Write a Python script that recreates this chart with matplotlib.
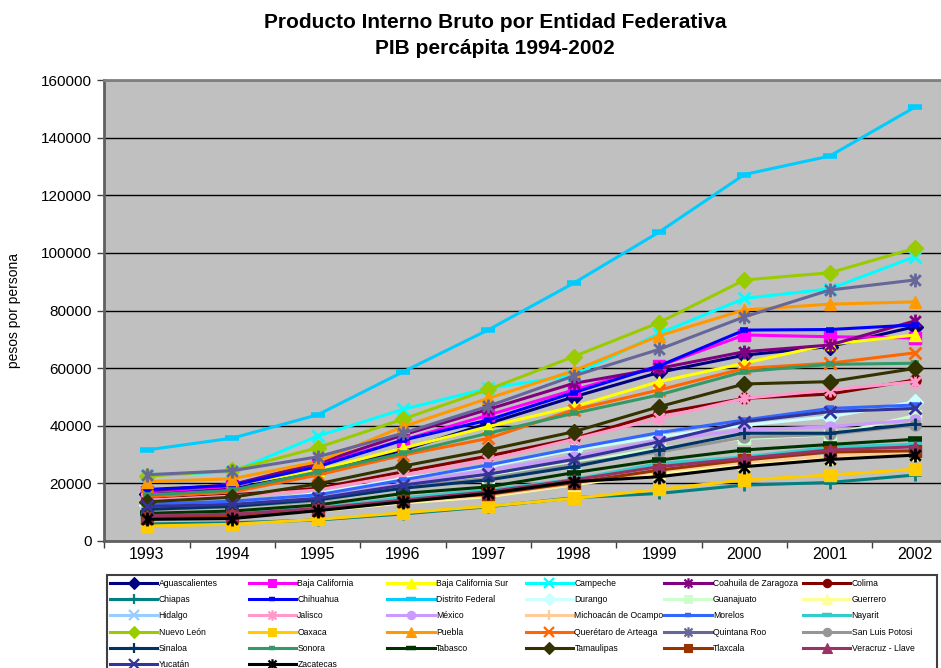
import matplotlib
matplotlib.use("Agg")
import matplotlib.pyplot as plt
from matplotlib.path import Path
from matplotlib.patches import Rectangle
from matplotlib.lines import Line2D

plt.rcParams['font.family'] = ['Liberation Sans', 'DejaVu Sans']

years = ['1993', '1994', '1995', '1996', '1997', '1998', '1999', '2000', '2001', '2002']

estados = ['Aguascalientes', 'Baja California', 'Baja California Sur', 'Campeche',
           'Coahuila de Zaragoza', 'Colima', 'Chiapas', 'Chihuahua', 'Distrito Federal',
           'Durango', 'Guanajuato', 'Guerrero', 'Hidalgo', 'Jalisco', 'México',
           'Michoacán de Ocampo', 'Morelos', 'Nayarit', 'Nuevo León', 'Oaxaca', 'Puebla',
           'Querétaro de Arteaga', 'Quintana Roo', 'San Luis Potosi', 'Sinaloa', 'Sonora',
           'Tabasco', 'Tamaulipas', 'Tlaxcala', 'Veracruz - Llave', 'Yucatán', 'Zacatecas']

# PIB per capita (pesos), one list per state
aguascalientes = [16400, 18000, 24000, 31500, 40800, 50000, 58500, 64500, 67500, 74400]
baja_california = [17000, 19000, 26400, 35000, 43700, 52400, 60750, 71500, 70900, 70500]
baja_california_sur = [17900, 19500, 24600, 32200, 39700, 46600, 55300, 61700, 68300, 71500]
campeche = [22800, 24000, 36400, 45700, 53000, 57500, 72000, 84200, 87500, 98700]
coahuila = [17400, 19600, 27000, 36800, 45700, 54700, 59900, 65700, 68000, 76400]
colima = [14400, 16000, 18300, 24000, 29500, 35600, 44300, 49500, 51000, 55900]
chiapas = [5900, 6300, 7300, 9400, 11900, 15000, 16500, 19400, 20300, 22900]
chihuahua = [17900, 19300, 25800, 35000, 42000, 51500, 60750, 73200, 73400, 75000]
distrito_federal = [31600, 35700, 43800, 58700, 73300, 89500, 107200, 127200, 133600, 150600]
durango = [12500, 13300, 16500, 21700, 25800, 31600, 36200, 40200, 43100, 48300]
guanajuato = [11200, 12200, 14300, 18300, 22300, 27000, 32200, 35600, 36800, 43500]
guerrero = [7800, 8400, 10400, 13200, 15400, 19500, 23500, 26400, 28900, 30300]
hidalgo = [8500, 9200, 11300, 14600, 17300, 21000, 25800, 28400, 30300, 31800]
jalisco = [14200, 15600, 17700, 22900, 28100, 35300, 42600, 49500, 52400, 55300]
mexico = [11800, 12800, 14800, 19900, 24600, 29300, 35000, 38500, 39700, 42000]
michoacan = [7600, 8200, 10700, 13600, 15800, 19800, 24200, 27300, 29600, 30600]
morelos = [12800, 13800, 16000, 21200, 26400, 32200, 37600, 42000, 46000, 47200]
nayarit = [9000, 9700, 11500, 15000, 17700, 21400, 26900, 29200, 32500, 33600]
nuevo_leon = [22500, 24500, 32400, 42300, 52600, 64000, 75800, 90600, 93100, 101600]
oaxaca = [5200, 5800, 7500, 9800, 12100, 14800, 17900, 21200, 22900, 24900]
puebla = [20600, 21600, 27500, 39700, 49500, 59100, 71200, 80200, 82200, 83000]
queretaro = [15500, 17000, 22900, 29800, 35600, 45500, 52400, 59900, 61700, 65300]
quintana_roo = [23000, 24400, 29200, 37400, 46800, 57300, 66500, 77800, 87100, 90600]
san_luis_potosi = [10800, 11900, 13900, 18800, 21800, 26600, 30900, 36000, 37000, 40200]
sinaloa = [11000, 12000, 14300, 18300, 21200, 25800, 31600, 37400, 37400, 40600]
sonora = [16000, 17600, 24000, 30400, 37400, 44300, 50700, 58800, 61300, 61700]
tabasco = [9600, 10400, 12500, 16500, 18800, 23700, 28100, 31600, 33500, 35300]
tamaulipas = [13600, 15200, 19800, 26000, 31600, 37900, 46600, 54500, 55300, 59900]
tlaxcala = [8000, 8600, 10900, 14000, 16200, 20200, 24600, 28100, 30900, 31300]
veracruz = [8800, 9300, 11300, 14200, 17100, 21200, 25800, 28700, 31600, 32700]
yucatan = [12000, 12700, 14800, 19400, 23200, 28300, 34400, 41400, 44900, 46000]
zacatecas = [7500, 7800, 10500, 13600, 16500, 20600, 22300, 25800, 28300, 29800]

series = [aguascalientes, baja_california, baja_california_sur, campeche, coahuila, colima,
          chiapas, chihuahua, distrito_federal, durango, guanajuato, guerrero, hidalgo,
          jalisco, mexico, michoacan, morelos, nayarit, nuevo_leon, oaxaca, puebla,
          queretaro, quintana_roo, san_luis_potosi, sinaloa, sonora, tabasco, tamaulipas,
          tlaxcala, veracruz, yucatan, zacatecas]

colores = ['#000080', '#FF00FF', '#FFFF00', '#00FFFF', '#800080', '#800000', '#008080',
           '#0000FF', '#00CCFF', '#CCFFFF', '#CCFFCC', '#FFFF99', '#99CCFF', '#FF99CC',
           '#CC99FF', '#FFCC99', '#3366FF', '#33CCCC', '#99CC00', '#FFCC00', '#FF9900',
           '#FF6600', '#666699', '#969696', '#003366', '#339966', '#003300', '#333300',
           '#993300', '#993366', '#333399', '#000000']

# asterisco estilo Excel: una X con una barra vertical
asterisco = Path([(-1, -1), (1, 1), (-1, 1), (1, -1), (0, -1.3), (0, 1.3)],
                 [Path.MOVETO, Path.LINETO] * 3)

# (marcador, tamaño, grosor de borde)
estilos = [('D', 8, 1), ('s', 8, 1), ('^', 9, 1), ('x', 9, 2), (asterisco, 10, 2),
           ('o', 8, 1), ('+', 9, 2), ('_', 6, 4), ('_', 10, 4)]

fig = plt.figure(figsize=(9.41, 6.68), dpi=100)
W, H = 941.0, 668.0
ax = fig.add_axes([104.3 / W, 1 - 541 / H, 853.4 / W, 461 / H])
ax.set_facecolor('#C0C0C0')

x = list(range(len(years)))
handles = []
for i, (nombre, vals, c) in enumerate(zip(estados, series, colores)):
    m, ms, mew = estilos[i % len(estilos)]
    ln, = ax.plot(x, vals, color=c, lw=2.2, marker=m, markersize=ms,
                  markerfacecolor=c, markeredgecolor=c, markeredgewidth=mew,
                  label=nombre, zorder=3 + i * 0.01, clip_on=False)
    handles.append(Line2D([], [], color=c, lw=2.2, marker=m, markersize=ms * 0.75,
                          markerfacecolor=c, markeredgecolor=c,
                          markeredgewidth=mew * 0.8))

ax.set_xlim(-0.5, len(years) - 0.5)
ax.set_ylim(0, 160000)
ax.set_yticks(range(0, 160001, 20000))
ax.set_yticklabels([str(v) for v in range(0, 160001, 20000)], fontsize=11)
ax.set_xticks(x)
ax.set_xticklabels(years, fontsize=11.5)
ax.set_xticks([v - 0.5 for v in range(len(years) + 1)], minor=True)
ax.tick_params(axis='x', which='major', length=0, pad=4)
ax.tick_params(axis='x', which='minor', length=5, width=1, direction='out', color='#404040')
ax.tick_params(axis='y', length=5, width=1, direction='out', color='#404040', pad=4)
ax.yaxis.grid(True, color='black', lw=1)
ax.set_axisbelow(True)

for lado in ['left', 'bottom']:
    ax.spines[lado].set_color('#606060')
    ax.spines[lado].set_linewidth(2)
ax.spines['top'].set_color('#808080')
ax.spines['top'].set_linewidth(2)
ax.spines['right'].set_visible(False)

ax.set_ylabel('pesos por persona', fontsize=10, labelpad=14)

fig.text(495 / W, 1 - 23 / H, 'Producto Interno Bruto por Entidad Federativa',
         ha='center', va='center', fontsize=15, fontweight='bold')
fig.text(495 / W, 1 - 49 / H, 'PIB percápita 1994-2002',
         ha='center', va='center', fontsize=15, fontweight='bold')

# leyenda: seis columnas de ancho fijo dentro de un mismo recuadro
fig.add_artist(Rectangle((106.5 / W, -0.05), (937 - 106.5) / W, (1 - 575 / H) + 0.05,
                         transform=fig.transFigure, facecolor='white',
                         edgecolor='#404040', lw=1.5, zorder=1))
ncol = 6
for c in range(ncol):
    idx = list(range(c, len(estados), ncol))
    leg = fig.legend([handles[k] for k in idx], [estados[k] for k in idx],
                     loc='upper left', bbox_to_anchor=((110 + 138.6 * c) / W, 1 - 579 / H),
                     frameon=False, fontsize=6.2, handlelength=5.5, handletextpad=0.15,
                     labelspacing=0.84, borderpad=0, borderaxespad=0)
    leg.set_zorder(2)

fig.savefig('out.png', dpi=100)
